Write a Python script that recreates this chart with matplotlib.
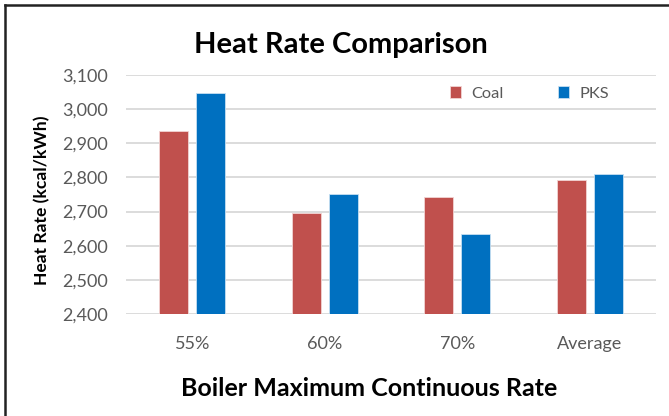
import numpy as np
import matplotlib.pyplot as plt
from matplotlib.lines import Line2D
from matplotlib.ticker import FuncFormatter

# data
categories = ['55%', '60%', '70%', 'Average']
coal = [2935, 2695, 2742, 2792]
pks = [3048, 2751, 2635, 2811]

plt.rcParams['font.family'] = ['Lato', 'DejaVu Sans']

W, H = 669, 416
fig = plt.figure(figsize=(6.69, 4.16), dpi=100)
ax = fig.add_axes([126 / W, 1 - 314 / H, 530 / W, 239 / H])

x = np.arange(len(categories))
w = 0.22
ax.bar(x - 0.14, coal, w, color='#C0504D', edgecolor='#f2d4d3', linewidth=0.6, label='Coal', zorder=3)
ax.bar(x + 0.14, pks, w, color='#0070C0', edgecolor='#c6dff2', linewidth=0.6, label='PKS', zorder=3)

ax.set_xlim(-0.5, len(categories) - 0.5)
ax.set_ylim(2400, 3100)
ax.set_yticks(np.arange(2400, 3101, 100))
ax.yaxis.set_major_formatter(FuncFormatter(lambda v, p: f'{int(v):,}'))
ax.set_xticks(x)
ax.set_xticklabels(categories)
ax.tick_params(axis='both', length=0, labelsize=13, colors='#595959')
ax.tick_params(axis='y', pad=13)
ax.tick_params(axis='x', pad=16)
ax.grid(axis='y', color='#d9d9d9', linewidth=1.3, zorder=0)
for s in ax.spines.values():
    s.set_visible(False)

# title and axis titles
fig.text(341 / W, 1 - 53.5 / H, 'Heat Rate Comparison', fontsize=21, fontweight='bold',
         ha='center', va='baseline')
fig.text(369 / W, 1 - 396 / H, 'Boiler Maximum Continuous Rate', fontsize=18, fontweight='bold',
         ha='center', va='baseline')
fig.text(42 / W, 1 - 200 / H, 'Heat Rate (kcal/kWh)', fontsize=12.6, fontweight='bold',
         rotation=90, ha='center', va='center')

leg = fig.legend(loc='center left', bbox_to_anchor=(450 / W, 1 - 93.5 / H), ncol=2, frameon=False,
                 fontsize=11.8, handlelength=0.68, handleheight=0.68, handletextpad=0.62,
                 columnspacing=3.3, borderpad=0, borderaxespad=0, labelcolor='#595959')

# figure frame (left and top edges visible)
fig.add_artist(Line2D([5 / W, 5 / W], [0, 1 - 5 / H], color='#222222', lw=1.8, transform=fig.transFigure))
fig.add_artist(Line2D([5 / W, 1], [1 - 5 / H, 1 - 5 / H], color='#222222', lw=1.8, transform=fig.transFigure))

fig.savefig('out.png', dpi=100)
